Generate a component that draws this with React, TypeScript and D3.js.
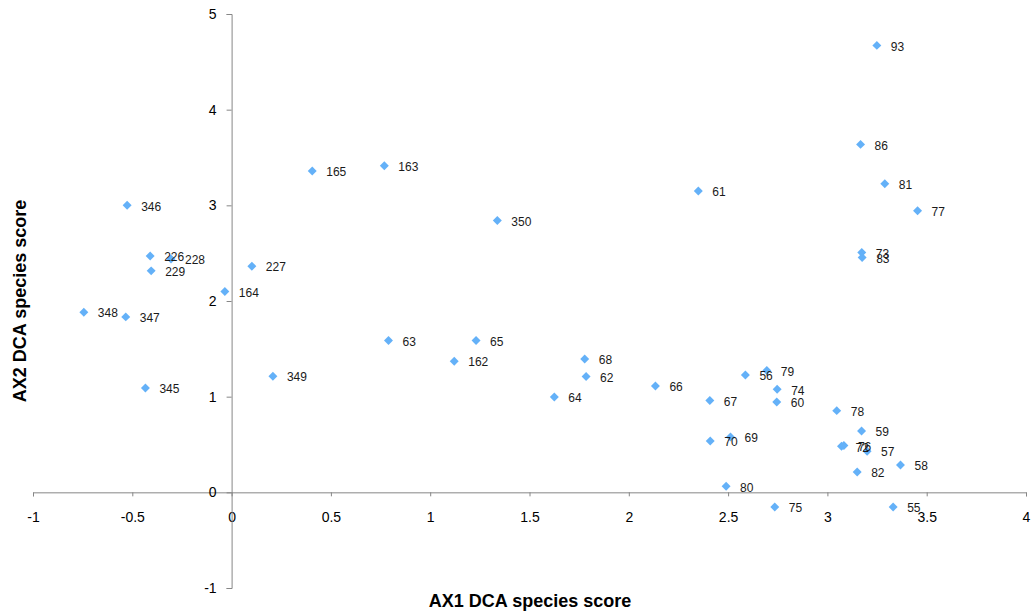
import React, { useEffect, useRef } from 'react';
import * as d3 from 'd3';

// DCA species scores
const speciesLabels = [
  '93', '86', '81', '77', '73', '83', '61', '163', '165', '350',
  '346', '226', '228', '229', '227', '164', '348', '347', '345', '349',
  '63', '65', '162', '68', '62', '66', '64',
  '79', '56', '74', '67', '60', '78', '59', '70', '69', '72', '76', '57', '58', '82', '80', '75', '55'
];
const ax1Scores = [
  3.249, 3.167, 3.289, 3.454, 3.173, 3.175, 2.350, 0.769, 0.406, 1.338,
  -0.526, -0.410, -0.305, -0.405, 0.102, -0.034, -0.744, -0.533, -0.434, 0.208,
  0.790, 1.231, 1.121, 1.778, 1.785, 2.134, 1.625,
  2.695, 2.587, 2.747, 2.408, 2.745, 3.047, 3.172, 2.410, 2.512, 3.071, 3.083, 3.200, 3.368, 3.150, 2.490, 2.735, 3.331
];
const ax2Scores = [
  4.672, 3.637, 3.225, 2.943, 2.507, 2.455, 3.149, 3.413, 3.358, 2.842,
  3.000, 2.470, 2.440, 2.315, 2.364, 2.100, 1.883, 1.834, 1.091, 1.213,
  1.587, 1.587, 1.370, 1.394, 1.210, 1.112, 0.997,
  1.273, 1.227, 1.077, 0.959, 0.945, 0.854, 0.641, 0.537, 0.579, 0.481, 0.490, 0.429, 0.286, 0.213, 0.063, -0.153, -0.153
];
const xTicks = [-1, -0.5, 0, 0.5, 1, 1.5, 2, 2.5, 3, 3.5, 4];
const yTicks = [-1, 0, 1, 2, 3, 4, 5];

const W = 1034;
const H = 614;

export default function App() {
  const svgRef = useRef<SVGSVGElement>(null);

  useEffect(() => {
    const svg = d3.select(svgRef.current);
    svg.selectAll('*').remove();

    const font = 'Liberation Sans, Arial, sans-serif';
    const axisColor = '#868686';
    const plain = (d: d3.NumberValue) => String(d); // hyphen minus, like Excel

    const x = d3.scaleLinear().domain([-1, 4]).range([33, 1026]);
    const y = d3.scaleLinear().domain([-1, 5]).range([588, 14]);

    const data = speciesLabels.map((label, i) => ({ label, ax1: ax1Scores[i], ax2: ax2Scores[i] }));

    // x axis sits on y = 0
    const gx = svg.append('g')
      .attr('transform', `translate(0,${y(0)})`)
      .call(d3.axisBottom(x).tickValues(xTicks).tickSize(4).tickPadding(16).tickFormat(plain));
    // y axis sits on x = 0
    const gy = svg.append('g')
      .attr('transform', `translate(${x(0)},0)`)
      .call(d3.axisLeft(y).tickValues(yTicks).tickSize(5).tickPadding(10).tickFormat(plain));

    [gx, gy].forEach(g => {
      g.select('.domain').attr('stroke', axisColor);
      g.selectAll('.tick line').attr('stroke', axisColor);
      g.selectAll('.tick text')
        .attr('fill', '#000')
        .style('font-family', font)
        .style('font-size', '14px');
    });

    // markers
    const diamond = d3.symbol().type(d3.symbolSquare).size(40);
    svg.append('g').selectAll('path')
      .data(data)
      .enter().append('path')
      .attr('d', diamond)
      .attr('transform', d => `translate(${x(d.ax1)},${y(d.ax2)}) rotate(45)`)
      .attr('fill', '#64b1f8');

    // point labels
    svg.append('g').selectAll('text')
      .data(data)
      .enter().append('text')
      .attr('x', d => x(d.ax1) + 14)
      .attr('y', d => y(d.ax2) + 1)
      .attr('dy', '0.35em')
      .style('font-family', font)
      .style('font-size', '12px')
      .attr('fill', '#1a1a1a')
      .text(d => d.label);

    // axis titles
    svg.append('text')
      .attr('x', 530)
      .attr('y', 601)
      .attr('dy', '0.35em')
      .attr('text-anchor', 'middle')
      .style('font-family', font)
      .style('font-size', '18px')
      .style('font-weight', 'bold')
      .text('AX1 DCA species score');

    svg.append('text')
      .attr('transform', `translate(20,301) rotate(-90)`)
      .attr('dy', '0.35em')
      .attr('text-anchor', 'middle')
      .style('font-family', font)
      .style('font-size', '18px')
      .style('font-weight', 'bold')
      .text('AX2 DCA species score');
  }, []);

  return (
    <svg
      ref={svgRef}
      width={W}
      height={H}
      style={{ position: 'absolute', left: 0, top: 0, background: '#fff' }}
    />
  );
}
